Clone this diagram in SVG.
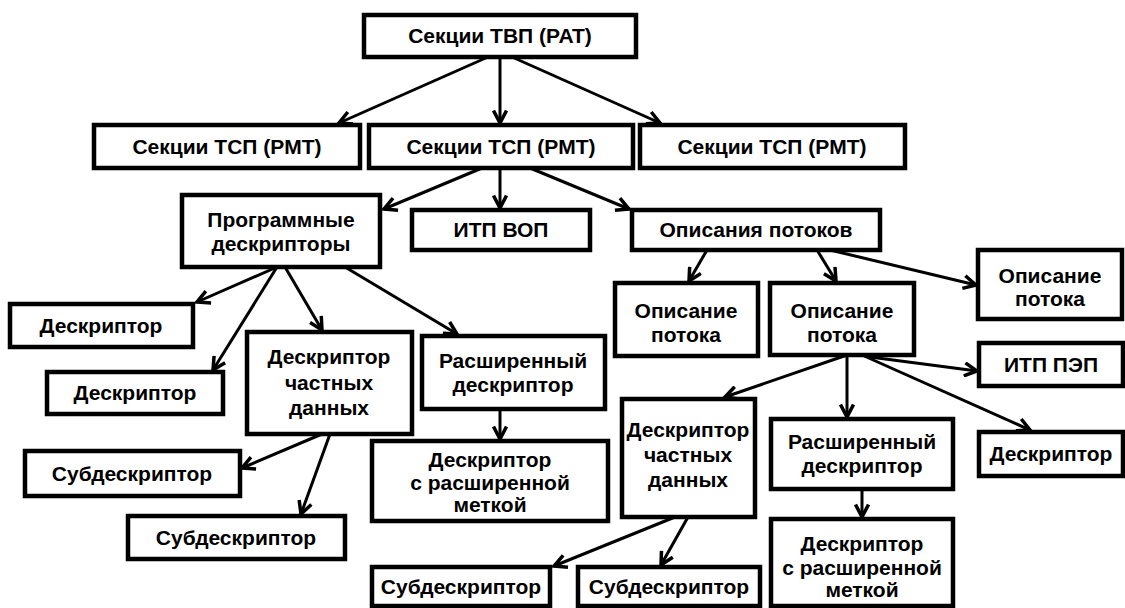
<svg xmlns="http://www.w3.org/2000/svg" width="1125" height="608" viewBox="0 0 1125 608">
<style>
  .box { fill: #fff; stroke: #000; stroke-width: 4.5; }
  .t { font-family: "Liberation Sans", Arial, sans-serif; font-weight: bold; font-size: 21px; text-anchor: middle; fill: #000; }
  .c { fill: none; stroke: #000; stroke-width: 3; marker-end: url(#arr); }
</style>
<defs>
  <marker id="arr" viewBox="0 0 16 16" markerWidth="16" markerHeight="16" refX="14" refY="8" orient="auto" markerUnits="userSpaceOnUse">
    <path d="M1.5,1.5 L14,8 L1.5,14.5" fill="none" stroke="#000" stroke-width="3.5"/>
  </marker>
</defs>
<rect width="1125" height="608" fill="#fff"/>
<g id="connectors">
  <line class="c" x1="488" y1="57" x2="339" y2="123"/>
  <line class="c" x1="500" y1="57" x2="500" y2="123"/>
  <line class="c" x1="512" y1="57" x2="660" y2="123"/>
  <line class="c" x1="482" y1="168" x2="384" y2="209"/>
  <line class="c" x1="500" y1="168" x2="500" y2="208"/>
  <line class="c" x1="530" y1="168" x2="629" y2="209"/>
  <line class="c" x1="277" y1="267" x2="197" y2="302"/>
  <line class="c" x1="277" y1="267" x2="213" y2="370"/>
  <line class="c" x1="285" y1="267" x2="322" y2="330"/>
  <line class="c" x1="345" y1="267" x2="457" y2="334"/>
  <line class="c" x1="322" y1="434" x2="242" y2="468"/>
  <line class="c" x1="330" y1="434" x2="301" y2="514"/>
  <line class="c" x1="500" y1="409" x2="500" y2="439"/>
  <line class="c" x1="707" y1="250" x2="689" y2="281"/>
  <line class="c" x1="817" y1="250" x2="836" y2="281"/>
  <line class="c" x1="830" y1="250" x2="976" y2="285"/>
  <line class="c" x1="847" y1="355" x2="725" y2="397"/>
  <line class="c" x1="847" y1="355" x2="847" y2="417"/>
  <line class="c" x1="862" y1="355" x2="1030" y2="430"/>
  <line class="c" x1="870" y1="357" x2="977" y2="371"/>
  <line class="c" x1="675" y1="517" x2="554" y2="566"/>
  <line class="c" x1="688" y1="517" x2="661" y2="565"/>
  <line class="c" x1="862" y1="489" x2="862" y2="517"/>
</g>
<g id="pat"><rect class="box" x="364" y="15" width="272" height="42"/><text class="t" x="500" y="43">Секции ТВП (PAT)</text></g>
<g id="pmt1"><rect class="box" x="94" y="125" width="266" height="43"/><text class="t" x="227" y="154">Секции ТСП (PMT)</text></g>
<g id="pmt2"><rect class="box" x="369" y="125" width="264" height="43"/><text class="t" x="501" y="154">Секции ТСП (PMT)</text></g>
<g id="pmt3"><rect class="box" x="640" y="125" width="265" height="43"/><text class="t" x="772" y="154">Секции ТСП (PMT)</text></g>
<g id="prog"><rect class="box" x="182" y="195" width="198" height="72"/><text class="t" x="281" y="227">Программные</text><text class="t" x="281" y="251">дескрипторы</text></g>
<g id="itp-vop"><rect class="box" x="412" y="210" width="178" height="40"/><text class="t" x="501" y="237">ИТП ВОП</text></g>
<g id="opis"><rect class="box" x="632" y="210" width="248" height="40"/><text class="t" x="756" y="237">Описания потоков</text></g>
<g id="desc1"><rect class="box" x="10" y="304" width="183" height="43"/><text class="t" x="101" y="333">Дескриптор</text></g>
<g id="desc2"><rect class="box" x="47" y="372" width="176" height="42"/><text class="t" x="135" y="400">Дескриптор</text></g>
<g id="priv1"><rect class="box" x="247" y="332" width="165" height="102"/><text class="t" x="329" y="364">Дескриптор</text><text class="t" x="329" y="390">частных</text><text class="t" x="329" y="415">данных</text></g>
<g id="ext1"><rect class="box" x="422" y="336" width="183" height="73"/><text class="t" x="513" y="368">Расширенный</text><text class="t" x="513" y="392">дескриптор</text></g>
<g id="extlab1"><rect class="box" x="372" y="441" width="236" height="80"/><text class="t" x="490" y="467">Дескриптор</text><text class="t" x="490" y="490">с расширенной</text><text class="t" x="490" y="512">меткой</text></g>
<g id="sub1"><rect class="box" x="25" y="451" width="215" height="45"/><text class="t" x="132" y="481">Субдескриптор</text></g>
<g id="sub2"><rect class="box" x="128" y="516" width="217" height="43"/><text class="t" x="236" y="545">Субдескриптор</text></g>
<g id="op1"><rect class="box" x="615" y="283" width="143" height="73"/><text class="t" x="686" y="318">Описание</text><text class="t" x="686" y="342">потока</text></g>
<g id="op2"><rect class="box" x="770" y="283" width="144" height="72"/><text class="t" x="842" y="318">Описание</text><text class="t" x="842" y="342">потока</text></g>
<g id="op3"><rect class="box" x="978" y="250" width="144" height="69"/><text class="t" x="1050" y="283">Описание</text><text class="t" x="1050" y="306">потока</text></g>
<g id="itp-pep"><rect class="box" x="979" y="343" width="144" height="43"/><text class="t" x="1051" y="372">ИТП ПЭП</text></g>
<g id="priv2"><rect class="box" x="622" y="399" width="133" height="118"/><text class="t" x="688" y="437">Дескриптор</text><text class="t" x="688" y="462">частных</text><text class="t" x="688" y="487">данных</text></g>
<g id="ext2"><rect class="box" x="771" y="419" width="182" height="70"/><text class="t" x="862" y="449">Расширенный</text><text class="t" x="862" y="473">дескриптор</text></g>
<g id="extlab2"><rect class="box" x="771" y="519" width="182" height="87"/><text class="t" x="862" y="551">Дескриптор</text><text class="t" x="862" y="575">с расширенной</text><text class="t" x="862" y="597">меткой</text></g>
<g id="desc3"><rect class="box" x="979" y="432" width="144" height="44"/><text class="t" x="1051" y="461">Дескриптор</text></g>
<g id="sub3"><rect class="box" x="372" y="567" width="178" height="39"/><text class="t" x="461" y="594">Субдескриптор</text></g>
<g id="sub4"><rect class="box" x="578" y="567" width="182" height="39"/><text class="t" x="669" y="594">Субдескриптор</text></g>
</svg>
